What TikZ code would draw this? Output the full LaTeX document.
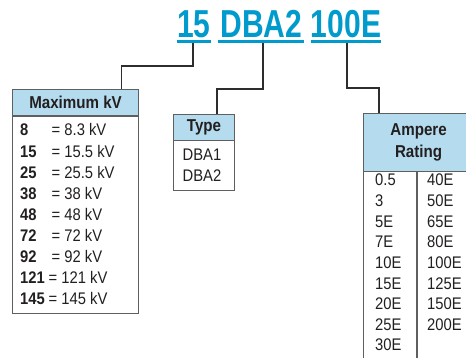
\documentclass[tikz,border=0pt]{standalone}
\usepackage{fontspec}
\setmainfont[FakeStretch=0.88]{Liberation Sans}
\newfontfamily\titlefont[FakeStretch=0.77]{Liberation Sans}
\usetikzlibrary{calc}
\definecolor{ttl}{RGB}{0,155,204}
\definecolor{hdr}{RGB}{180,220,238}
\definecolor{brd}{RGB}{95,95,95}
\definecolor{txt}{RGB}{35,31,32}
\definecolor{cn}{RGB}{45,45,45}
\begin{document}
\begin{tikzpicture}[x=1pt,y=-1pt,
  ttlword/.style={font=\titlefont\bfseries\fontsize{39}{39}\selectfont, text=ttl, inner sep=0pt, anchor=base},
  uline/.style={draw=ttl, line width=3.5pt},
  hdrbox/.style={draw=brd, fill=hdr, line width=1.1pt, anchor=north west, inner sep=0pt,
    font=\bfseries\fontsize{17.2}{21.6}\selectfont, text=txt, align=center},
  bodybox/.style={draw=brd, fill=white, line width=1.1pt, anchor=north west, inner sep=0pt},
  rowtxt/.style={font=\fontsize{16.8}{18}\selectfont, text=txt, inner sep=0pt, anchor=base west},
  numtxt/.style={rowtxt, font=\bfseries\fontsize{16.8}{18}\selectfont},
  conn/.style={draw=cn, line width=1.2pt}]
\useasboundingbox (0,0) rectangle (466,358);

% title
\node[ttlword] (t15) at (194,37.5) {15};
\node[ttlword] (tdba) at (261.5,37.5) {DBA2};
\node[ttlword] (t100) at (346,37.5) {100E};
\draw[uline] ($(t15.base west)+(-0.5,3.8)$) -- ($(t15.base east)+(0,3.8)$);
\draw[uline] ($(tdba.base west)+(-2.5,3.8)$) -- ($(tdba.base east)+(1.5,3.8)$);
\draw[uline] ($(t100.base west)+(0,3.8)$) -- ($(t100.base east)+(0,3.8)$);

% boxes
\node[bodybox, minimum width=126pt, minimum height=197.5pt] (mkvb) at (12,115.5) {};
\node[hdrbox, minimum width=126pt, minimum height=26.5pt] (mkvh) at (12,89) {Maximum kV};

\node[bodybox, minimum width=61pt, minimum height=50pt] (typb) at (173,140) {};
\node[hdrbox, minimum width=61pt, minimum height=26pt] (typh) at (173,114) {Type};

\node[bodybox, minimum width=110pt, minimum height=200pt] (ampb) at (363,171) {};
\node[hdrbox, minimum width=110pt, minimum height=58pt] (amph) at (363,113) {Ampere\\Rating};
\draw[draw=brd, line width=1.1pt] ($(ampb.north west)+(54,0)$) -- ($(ampb.south west)+(54,0)$);

% connectors
\coordinate (k15) at ($(t15.base)+(-1,5.5)$);
\coordinate (kdba) at ($(tdba.base)+(1.5,5.5)$);
\coordinate (k100) at ($(t100.base)+(1,5.5)$);
\coordinate (mkvin) at ($(mkvh.north west)+(109.5,0)$);
\coordinate (typin) at ($(typh.north west)+(44,0)$);
\coordinate (ampin) at ($(amph.north west)+(16,0)$);
\draw[conn] (k15) -- ++(0,23) -| (mkvin);
\draw[conn] (kdba) -- ++(0,46) -| (typin);
\draw[conn] (k100) -- ++(0,45) -| (ampin);

% Maximum kV rows
\foreach \n/\v [count=\i from 0] in {8/8.3,15/15.5,25/25.5,38/38,48/48,72/72,92/92,121/121,145/145} {
  \pgfmathsetmacro\yy{136+21.1*\i}
  \pgfmathsetmacro\ex{\n>99 ? 48.5 : 51.5}
  \node[numtxt] (kn\i) at (20,\yy) {\n};
  \node[rowtxt] (kv\i) at (\ex,\yy) {= \v\ kV};
}

% Type rows
\node[rowtxt] (ty1) at (182.5,160.5) {DBA1};
\node[rowtxt] (ty2) at (182.5,181.6) {DBA2};

% Ampere rows
\foreach \a [count=\i from 0] in {0.5,3,5E,7E,10E,15E,20E,25E,30E} {
  \pgfmathsetmacro\yy{186+20.6*\i}
  \node[rowtxt] (al\i) at (375,\yy) {\a};
}
\foreach \a [count=\i from 0] in {40E,50E,65E,80E,100E,125E,150E,200E} {
  \pgfmathsetmacro\yy{186+20.6*\i}
  \node[rowtxt] (ar\i) at (427,\yy) {\a};
}
\end{tikzpicture}
\end{document}
